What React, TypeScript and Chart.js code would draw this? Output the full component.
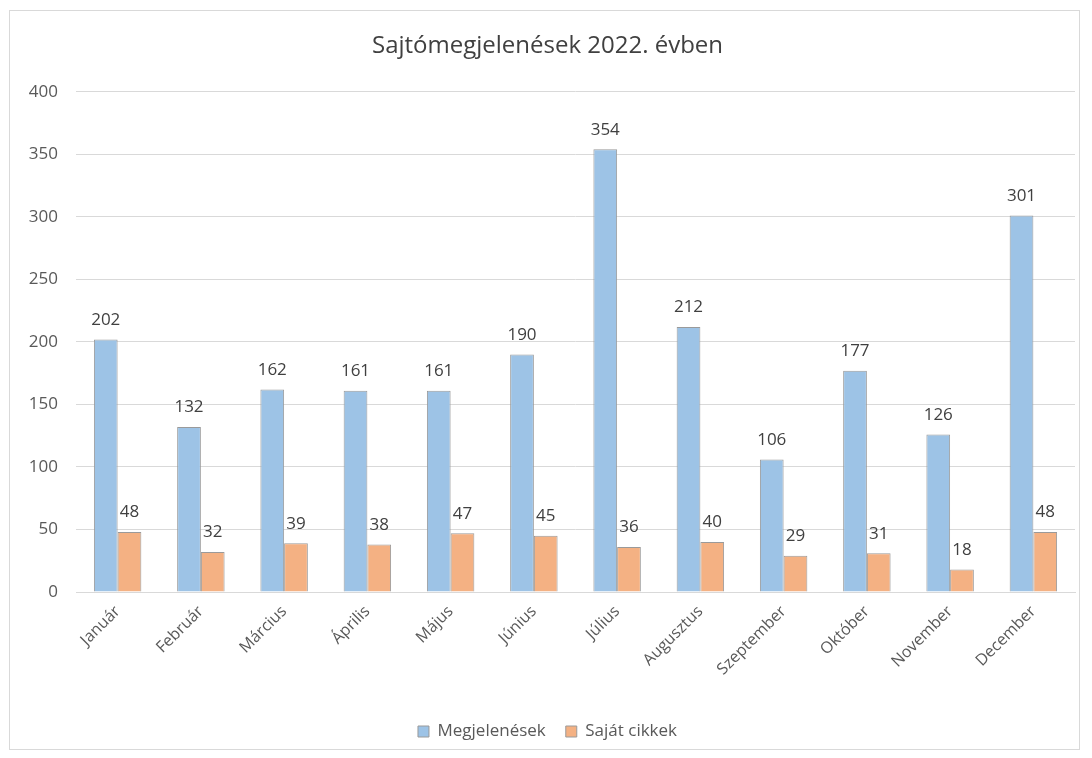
import React, { useEffect, useRef } from "react";
import { Chart, registerables } from "chart.js";

Chart.register(...registerables);

const categories = ["Január", "Február", "Március", "Április", "Május", "Június", "Július", "Augusztus", "Szeptember", "Október", "November", "December"];
const megjelenesek = [202, 132, 162, 161, 161, 190, 354, 212, 106, 177, 126, 301];
const sajatCikkek = [48, 32, 39, 38, 47, 45, 36, 40, 29, 31, 18, 48];
const seriesNames = ["Megjelenések", "Saját cikkek"];
const titleText = "Sajtómegjelenések 2022. évben";
const yMax = 400;
const yStep = 50;

const FONT = "'Open Sans', 'DejaVu Sans', sans-serif";

const dataLabels = {
  id: "dataLabels",
  afterDatasetsDraw(chart: any) {
    const ctx = chart.ctx;
    ctx.save();
    ctx.font = `17px ${FONT}`;
    ctx.fillStyle = "#404040";
    ctx.textAlign = "center";
    ctx.textBaseline = "bottom";
    chart.data.datasets.forEach((ds: any, i: number) => {
      const meta = chart.getDatasetMeta(i);
      meta.data.forEach((el: any, j: number) => {
        ctx.fillText(String(ds.data[j]), el.x, el.y - 11);
      });
    });
    ctx.restore();
  },
};

export default function App() {
  const ref = useRef<HTMLCanvasElement | null>(null);
  useEffect(() => {
    if (!ref.current) return;
    const chart = new Chart(ref.current, {
      type: "bar",
      data: {
        labels: categories,
        datasets: [
          {
            label: seriesNames[0],
            data: megjelenesek,
            backgroundColor: "#9DC3E6",
            borderColor: "#9a9a9a",
            borderWidth: 1,
            categoryPercentage: 0.57,
            barPercentage: 1,
          },
          {
            label: seriesNames[1],
            data: sajatCikkek,
            backgroundColor: "#F4B183",
            borderColor: "#9a9a9a",
            borderWidth: 1,
            categoryPercentage: 0.57,
            barPercentage: 1,
          },
        ],
      },
      options: {
        animation: false,
        responsive: false,
        maintainAspectRatio: false,
        layout: { padding: { left: 20, right: 17, top: 0, bottom: 8 } },
        plugins: {
          title: {
            display: true,
            text: titleText,
            color: "#404040",
            font: { family: FONT, size: 24, weight: "normal" },
            padding: { top: 32, bottom: 31 },
          },
          legend: {
            position: "bottom",
            labels: {
              color: "#595959",
              font: { family: FONT, size: 17 },
              boxWidth: 11,
              boxHeight: 11,
              padding: 20,
            },
          },
          tooltip: { enabled: false },
        },
        scales: {
          x: {
            grid: { display: false, drawTicks: false },
            border: { display: true, color: "#d9d9d9" },
            ticks: {
              color: "#595959",
              font: { family: FONT, size: 16 },
              maxRotation: 45,
              minRotation: 45,
              padding: 10,
            },
            afterFit(scale: any) {
              scale.height = 111;
            },
          },
          y: {
            min: 0,
            max: yMax,
            grid: { color: "#d9d9d9", drawTicks: false },
            border: { display: false },
            ticks: {
              stepSize: yStep,
              color: "#595959",
              font: { family: FONT, size: 17 },
              padding: 18,
            },
            afterFit(scale: any) {
              scale.width = 56;
            },
          },
        },
      },
      plugins: [dataLabels],
    });
    return () => chart.destroy();
  }, []);

  return (
    <div style={{ position: "fixed", left: 0, top: 0, width: 1092, height: 758, background: "#fff" }}>
      <div
        style={{
          position: "absolute",
          left: 9,
          top: 10,
          width: 1071,
          height: 740,
          border: "1px solid #d9d9d9",
          boxSizing: "border-box",
        }}
      />
      <canvas ref={ref} width={1092} height={758} style={{ position: "absolute", left: 0, top: 0 }} />
    </div>
  );
}
